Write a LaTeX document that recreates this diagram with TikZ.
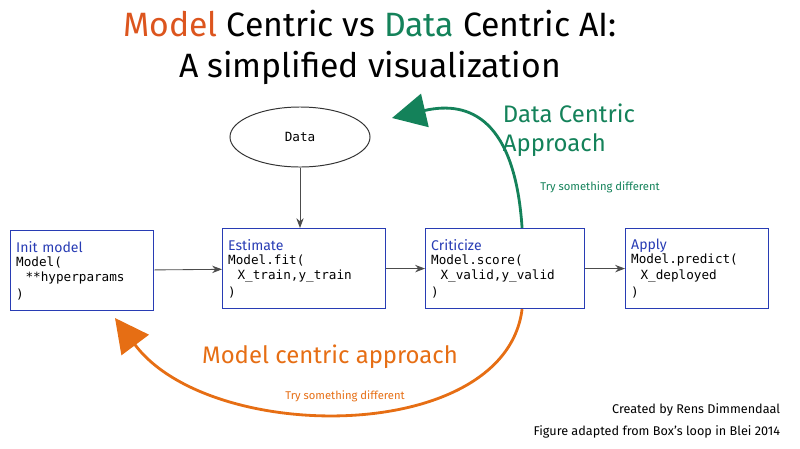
\documentclass[tikz,border=0pt]{standalone}
\usepackage{fontspec}
\setmainfont{Fira Sans}
\setmonofont{DejaVu Sans Mono}
\usetikzlibrary{positioning,arrows.meta,shapes.geometric}
\definecolor{modelorange}{RGB}{230,110,20}
\definecolor{datagreen}{RGB}{20,130,90}
\definecolor{boxblue}{RGB}{40,60,180}
\definecolor{titleorange}{RGB}{220,85,30}
\tikzset{
  stage/.style={draw=boxblue, line width=0.8pt, minimum height=2cm, inner sep=4pt, align=left},
  flow/.style={-{Stealth[length=7pt]}, draw=black!70, line width=0.6pt},
  big/.style={line width=2pt, -{Triangle[length=24pt,width=24pt]}},
}
\begin{document}
\begin{tikzpicture}[x=0.025cm,y=-0.025cm]
  \useasboundingbox (0,0) rectangle (800,448);

  % title
  \node (title1) at (370,24) {\fontsize{24}{28}\selectfont\textcolor{titleorange}{Model} Centric vs \textcolor{datagreen}{Data} Centric AI:};
  \node (title2) at (370,68) {\fontsize{24}{28}\selectfont A simplified visualization};

  % data
  \node[ellipse, draw=black!80, line width=0.7pt, minimum width=3.5cm, minimum height=1.5cm] (data) at (300,137) {\ttfamily\small Data};

  % stages
  \node[stage, anchor=north west, text width=3.3cm] (init) at (10,230) {\textcolor{boxblue}{Init model}\\[-1pt]\ttfamily\small Model(\\\ \ **hyperparams\\)};
  \node[stage, anchor=north west, text width=3.8cm] (est) at (222,228) {\textcolor{boxblue}{Estimate}\\[-1pt]\ttfamily\small Model.fit(\\\ \ X\_train,y\_train\\)};
  \node[stage, anchor=north west, text width=3.7cm] (crit) at (425,228) {\textcolor{boxblue}{Criticize}\\[-1pt]\ttfamily\small Model.score(\\\ \ X\_valid,y\_valid\\)};
  \node[stage, anchor=north west, text width=3.3cm] (apply) at (625,228) {\textcolor{boxblue}{Apply}\\[-1pt]\ttfamily\small Model.predict(\\\ \ X\_deployed\\)};

  \draw[flow] (data) -- (est.north -| data);
  \draw[flow] (init) -- (est);
  \draw[flow] (est) -- (crit);
  \draw[flow] (crit) -- (apply);

  % data centric loop
  \coordinate (greenend) at (392,118);
  \draw[big, datagreen] ([xshift=12pt]crit.north) .. controls (515,120) and (470,100) .. (greenend);
  \node[datagreen, font=\fontsize{17}{21}\selectfont, align=left, anchor=west] (dca) at (498,130) {Data Centric\\Approach};
  \node[datagreen, font=\footnotesize] (try1) at (600,187) {Try something different};

  % model centric loop
  \coordinate (orangeend) at (115,318);
  \draw[big, modelorange] ([xshift=12pt]crit.south) .. controls (505,445) and (210,445) .. (orangeend);
  \node[modelorange, font=\fontsize{17}{21}\selectfont] (mca) at (330,357) {Model centric approach};
  \node[modelorange, font=\footnotesize] (try2) at (345,396) {Try something different};

  % credits
  \node[anchor=east, font=\small] (cred1) at (785,410) {Created by Rens Dimmendaal};
  \node[anchor=east, font=\small] (cred2) at (785,432) {Figure adapted from Box's loop in Blei 2014};
\end{tikzpicture}
\end{document}
